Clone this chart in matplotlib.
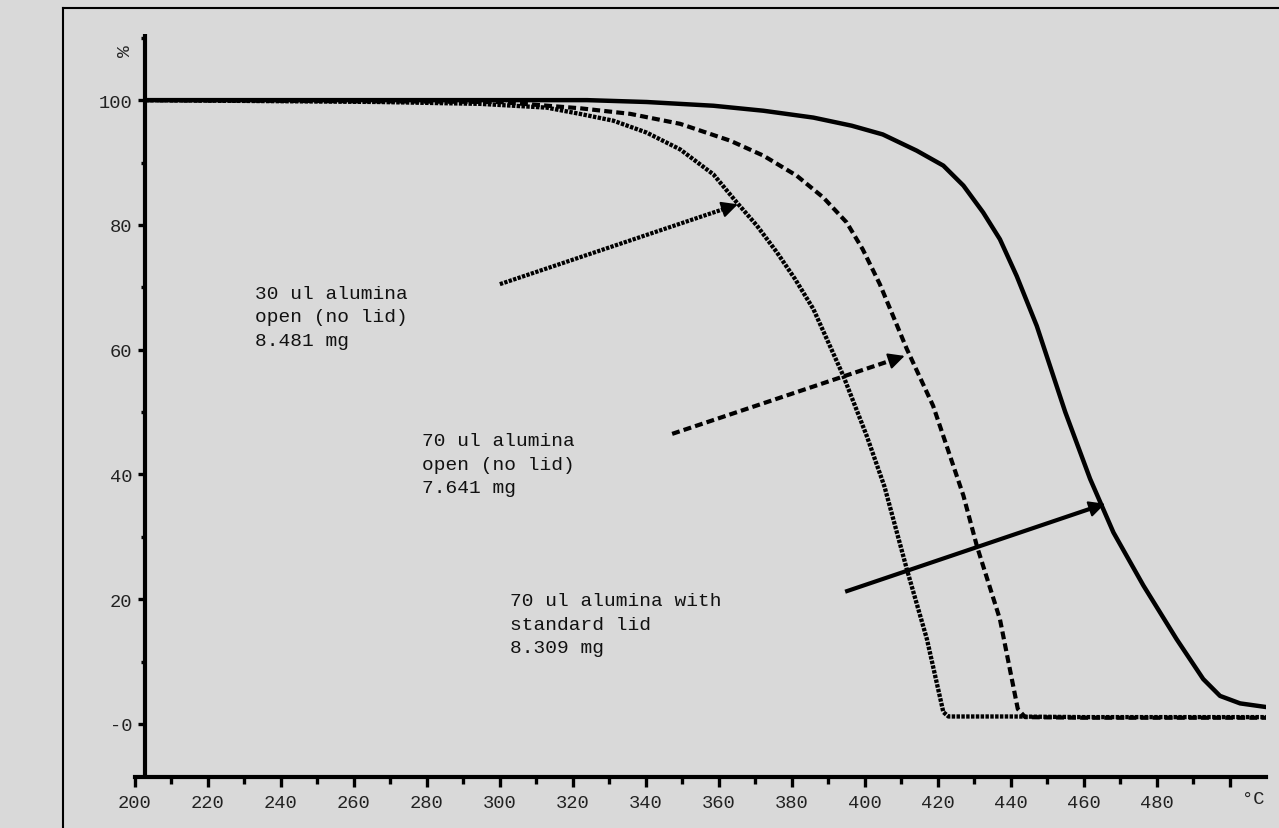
import matplotlib
matplotlib.use("Agg")
import matplotlib.pyplot as plt
from matplotlib.lines import Line2D
from matplotlib import transforms

# ---------------- data ----------------
t_30open = [203, 267.2, 294.7, 312.9, 322, 331.2, 340.3, 349.5, 358.6, 365, 370.5,
            376, 381, 386, 394.2, 400.6, 405.5, 411.6, 417.1, 421.6, 423, 440, 460,
            480, 500, 510]
w_30open = [100, 99.7, 99.4, 98.8, 97.8, 96.7, 94.8, 92.1, 88.1, 83.6, 79.9,
            75.6, 71.3, 66.5, 55.8, 46.2, 38.0, 24.8, 13.6, 1.9, 1.2, 1.2, 1.1,
            1.1, 1.1, 1.1]

t_70open = [203, 300, 322, 335.8, 349.5, 363.2, 372.3, 381.4, 388.7, 395.1, 399.5,
            404.2, 411.6, 418.8, 427.1, 430.8, 437.1, 442, 444, 460, 480, 500, 510]
w_70open = [100, 99.7, 98.7, 97.8, 96.2, 93.5, 91.1, 87.9, 84.4, 80.4, 76.1,
            70.5, 60.1, 51.0, 36.6, 28.5, 16.8, 2.4, 1.1, 1.0, 1.0, 1.0, 1.0]

t_70lid = [203, 324, 340.3, 358.6, 372.3, 386, 396.5, 405, 414.3, 421.6, 427.1,
           432.5, 437.1, 441.7, 447.2, 455, 461.8, 468.2, 476.4, 485.5, 492.8,
           497.4, 502.9, 510.2]
w_70lid = [100, 100, 99.7, 99.1, 98.3, 97.2, 95.9, 94.5, 91.9, 89.5, 86.3,
           82.0, 77.7, 71.8, 63.8, 50.0, 39.3, 30.7, 22.2, 13.6, 7.2,
           4.5, 3.3, 2.7]

label_30open = "30 ul alumina\nopen (no lid)\n8.481 mg"
label_70open = "70 ul alumina\nopen (no lid)\n7.641 mg"
label_70lid = "70 ul alumina with\nstandard lid\n8.309 mg"

x_major = list(range(200, 501, 20))
x_labels = [str(v) for v in range(200, 481, 20)] + [""]
x_minor = list(range(210, 500, 20))
y_major = [0, 20, 40, 60, 80, 100]
y_labels = ["-0", "20", "40", "60", "80", "100"]
y_minor = [10, 30, 50, 70, 90, 110]

# annotation anchors (start -> tip) in data units
arrow_30open = ((300.1, 70.5), (365.3, 83.3))
arrow_70open = ((347.3, 46.5), (411.0, 59.0))
arrow_70lid = ((394.7, 21.2), (465.9, 35.3))
text_30open = (233.0, 65.3)
text_70open = (278.8, 41.6)
text_70lid = (302.9, 16.0)

# ---------------- styling ----------------
BG = "#d9d9d9"
FONT = ["Liberation Mono", "DejaVu Sans Mono"]
DOT = (0, (0.8, 0.32))
DASH = (0, (1.9, 1.0))

fig = plt.figure(figsize=(12.79, 8.29), dpi=100, facecolor=BG)

# outer frame (left and top edges)
fig.add_artist(Line2D([63 / 1279, 63 / 1279], [0, 1 - 9 / 829], color="black", lw=1.5,
                      transform=fig.transFigure))
fig.add_artist(Line2D([63 / 1279, 1], [1 - 9 / 829, 1 - 9 / 829], color="black", lw=1.5,
                      transform=fig.transFigure))

ax = fig.add_axes([134.5 / 1279, 1 - 778 / 829, (1266 - 134.5) / 1279, (778 - 35) / 829])
ax.set_facecolor("none")
ax.set_xlim(200, 510)
ax.set_ylim(-8.5, 110.6)

for s in ("top", "right"):
    ax.spines[s].set_visible(False)
ax.spines["left"].set_position(("data", 202.9))
ax.spines["left"].set_linewidth(3)
ax.spines["bottom"].set_linewidth(3)
ax.spines["left"].set_capstyle("butt")

ax.set_xticks(x_major)
ax.set_xticklabels(x_labels)
ax.set_xticks(x_minor, minor=True)
ax.set_yticks(y_major)
ax.set_yticklabels(y_labels)
ax.set_yticks(y_minor, minor=True)

ax.tick_params(axis="x", which="major", length=7.5, width=2.4, pad=5, direction="out")
ax.tick_params(axis="x", which="minor", length=4.8, width=2.4, direction="out")
ax.tick_params(axis="y", which="major", length=5, width=2.4, pad=4, direction="out")
ax.tick_params(axis="y", which="minor", length=3, width=2.4, direction="out")
for lab in ax.get_xticklabels() + ax.get_yticklabels():
    lab.set_fontfamily(FONT)
    lab.set_fontsize(13.5)
    lab.set_color("#222222")

# curves
ax.plot(t_30open, w_30open, color="black", lw=3.1, linestyle=DOT,
        dash_capstyle="butt", dash_joinstyle="round")
ax.plot(t_70open, w_70open, color="black", lw=3, linestyle=DASH,
        dash_capstyle="butt", dash_joinstyle="round")
ax.plot(t_70lid, w_70lid, color="black", lw=3.2, linestyle="-",
        solid_capstyle="butt", solid_joinstyle="round")

# arrows: styled shaft + solid filled head
for (start, tip), ls in ((arrow_30open, DOT), (arrow_70open, DASH), (arrow_70lid, "-")):
    near = (start[0] + 0.95 * (tip[0] - start[0]), start[1] + 0.95 * (tip[1] - start[1]))
    ax.annotate("", xy=tip, xytext=start,
                arrowprops=dict(arrowstyle="-", lw=3, linestyle=ls, color="black",
                                capstyle="butt", shrinkA=0, shrinkB=4))
    ax.annotate("", xy=tip, xytext=near,
                arrowprops=dict(arrowstyle="-|>,head_length=0.7,head_width=0.35",
                                lw=1.5, color="black", mutation_scale=14,
                                shrinkA=0, shrinkB=0))

# labels
for pos, txt in ((text_30open, label_30open), (text_70open, label_70open),
                 (text_70lid, label_70lid)):
    ax.text(pos[0], pos[1], txt, ha="left", va="center", fontsize=14,
            family=FONT, color="#111111", linespacing=1.5)

ax.text(197.6, 108.0, "%", rotation=90, ha="center", va="center", fontsize=14,
        family=FONT, color="#222222", clip_on=False)
trans = transforms.blended_transform_factory(ax.transData, ax.transAxes)
ax.text(506.4, -22 / 743, "°C", ha="center", va="center", fontsize=13.5, family=FONT,
        color="#222222", transform=trans, clip_on=False)

fig.savefig("out.png", dpi=100, facecolor=BG)
